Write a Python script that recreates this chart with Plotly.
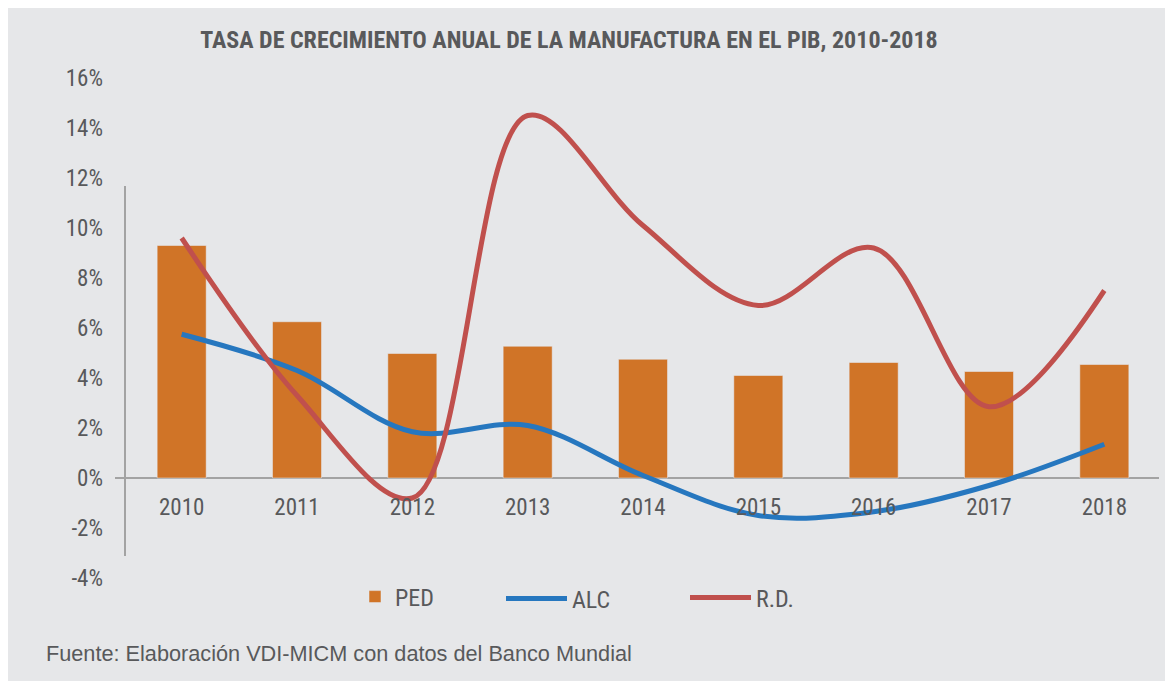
import plotly.graph_objects as go

years = ["2010", "2011", "2012", "2013", "2014", "2015", "2016", "2017", "2018"]
ped = [9.3, 6.25, 4.98, 5.27, 4.75, 4.1, 4.62, 4.26, 4.54]
alc = [5.75, 4.3, 1.85, 2.1, 0.1, -1.5, -1.35, -0.3, 1.35]
rd = [9.6, 3.3, -0.8, 14.5, 10.1, 6.9, 9.2, 2.85, 7.5]
y_ticks = [-4, -2, 0, 2, 4, 6, 8, 10, 12, 14, 16]
y_labels = [f"{v}%" for v in y_ticks]

BG = "#e6e7e9"
TXT = "#58595b"
NARROW = "Roboto Condensed, DejaVu Sans Condensed, Roboto, sans-serif"

OFF = 8  # body margin of the page
W, H = 1165, 673
L, R, T, B = 116, 11, 70, 103
pw, ph = W - L - R, H - T - B

def px_x(p):
    return (p - OFF - L) / pw

def px_y(p):
    return (H - B - (p - OFF)) / ph

fig = go.Figure()
fig.add_trace(go.Bar(x=years, y=ped, name="PED", marker_color="#d07427",
                     width=0.425, legend="legend"))
fig.add_trace(go.Scatter(x=years, y=alc, name="ALC", mode="lines",
                         line=dict(color="#2677bf", width=5, shape="spline", smoothing=1.0),
                         legend="legend2"))
fig.add_trace(go.Scatter(x=years, y=rd, name="R.D.", mode="lines",
                         line=dict(color="#c0504d", width=5, shape="spline", smoothing=1.0),
                         legend="legend3"))

legfont = dict(family=NARROW, size=24, color=TXT)
common = dict(orientation="h", bgcolor="rgba(0,0,0,0)", font=legfont,
              xanchor="left", yanchor="middle")
fig.update_layout(
    width=W, height=H,
    margin=dict(l=L, r=R, t=T, b=B, pad=0),
    paper_bgcolor=BG, plot_bgcolor=BG,
    showlegend=True,
    legend=dict(x=px_x(355), y=px_y(597), itemwidth=30, **common),
    legend2=dict(x=px_x(501), y=px_y(599), itemwidth=61, **common),
    legend3=dict(x=px_x(685), y=px_y(598), itemwidth=61, **common),
    title=dict(text="<b>TASA DE CRECIMIENTO ANUAL DE LA MANUFACTURA EN EL PIB, 2010-2018</b>",
               x=(569 - OFF) / W, xanchor="center", y=1 - (40 - OFF) / H, yanchor="middle",
               font=dict(family=NARROW, size=24, color=TXT)),
    xaxis=dict(type="category", range=[-0.5, 8.5], showgrid=False, zeroline=False,
               showline=False, ticks="", anchor="free", position=px_y(477.7),
               tickfont=dict(family=NARROW, size=23, color=TXT),
               ticklabelstandoff=13, fixedrange=True),
    yaxis=dict(range=[-4, 16], tickvals=y_ticks, ticktext=y_labels, showgrid=False,
               zeroline=False, showline=False, ticks="",
               tickfont=dict(family=NARROW, size=23, color=TXT),
               ticklabelstandoff=20, fixedrange=True),
)
# axis lines
fig.add_shape(type="line", xref="paper", yref="paper", x0=px_x(125), x1=px_x(125),
              y0=px_y(186), y1=px_y(556), line=dict(color="#a3a3a3", width=2))
fig.add_shape(type="line", xref="paper", yref="y", x0=px_x(115), x1=px_x(1159),
              y0=0, y1=0, line=dict(color="#a3a3a3", width=2), layer="below")
fig.add_annotation(text="Fuente: Elaboración VDI-MICM con datos del Banco Mundial",
                   xref="paper", yref="paper", x=px_x(44), y=px_y(653), xanchor="left",
                   yanchor="middle", showarrow=False,
                   font=dict(family="Liberation Sans, Arial, sans-serif", size=21.7, color=TXT))
fig.write_html("out.html")
